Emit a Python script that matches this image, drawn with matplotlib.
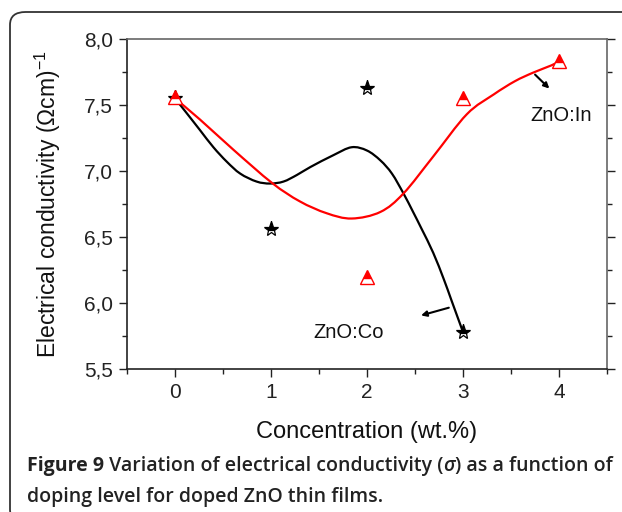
import numpy as np
import matplotlib.pyplot as plt
from matplotlib.patches import FancyBboxPatch, PathPatch
from matplotlib.path import Path
from matplotlib.ticker import MultipleLocator

plt.rcParams['font.family'] = ['Liberation Sans', 'DejaVu Sans']
plt.rcParams['mathtext.fontset'] = 'custom'
plt.rcParams['mathtext.rm'] = 'Liberation Sans'

# measured points
conc = [0, 1, 2, 3, 4]
sigma_co = [7.55, 6.56, 7.63, 5.78]
sigma_in = [7.56, 6.20, 7.55, 7.83]
conc_in = [0, 2, 3, 4]

# smoothed fit curves
fit_co_x = [0.0, 0.12, 0.26, 0.40, 0.54, 0.68, 0.85, 0.99, 1.13, 1.27, 1.41,
            1.65, 1.84, 2.00, 2.14, 2.26, 2.38, 2.48, 2.57, 2.69, 2.80, 2.88, 3.0]
fit_co_y = [7.55, 7.44, 7.31, 7.18, 7.07, 6.98, 6.92, 6.905, 6.92, 6.97, 7.03,
            7.12, 7.18, 7.155, 7.08, 6.98, 6.83, 6.69, 6.56, 6.38, 6.18, 6.02, 5.78]
fit_in_x = [0.0, 0.26, 0.61, 1.01, 1.30, 1.58, 1.84, 2.14, 2.38, 2.69, 3.04,
            3.32, 3.54, 3.73, 3.92, 4.0]
fit_in_y = [7.55, 7.39, 7.16, 6.91, 6.77, 6.68, 6.64, 6.69, 6.83, 7.11, 7.43,
            7.58, 7.68, 7.745, 7.80, 7.83]

yticks = [5.5, 6.0, 6.5, 7.0, 7.5, 8.0]
ytick_labels = ['5,5', '6,0', '6,5', '7,0', '7,5', '8,0']


def spline_line(ax, xs, ys, **kw):
    # catmull-rom style connection drawn as cubic bezier segments
    p = np.column_stack([xs, ys]).astype(float)
    n = len(p)
    verts = [p[0]]
    codes = [Path.MOVETO]
    for i in range(n - 1):
        p0 = p[i - 1] if i > 0 else p[i]
        p1, p2 = p[i], p[i + 1]
        p3 = p[i + 2] if i + 2 < n else p[i + 1]
        verts += [p1 + (p2 - p0) / 6, p2 - (p3 - p1) / 6, p2]
        codes += [Path.CURVE4] * 3
    ax.add_patch(PathPatch(Path(verts, codes), fill=False, **kw))


fig = plt.figure(figsize=(6.22, 5.12), dpi=100)
ax = fig.add_axes([127/622, 1-369/512, 480/622, 330/512])

spline_line(ax, fit_co_x, fit_co_y, ec='black', lw=1.6, zorder=2)
spline_line(ax, fit_in_x, fit_in_y, ec='#ff0000', lw=1.6, zorder=2)
ax.plot(conc[:4], sigma_co, ls='none', marker='*', ms=11, fillstyle='top',
        mfc='black', mfcalt='white', mec='black', mew=0.9, zorder=3)
ax.plot(conc_in, sigma_in, ls='none', marker='^', ms=10, fillstyle='top',
        mfc='#ff0000', mfcalt='white', mec='#ff0000', mew=1.0, zorder=4)

ax.annotate('', xy=(3.92, 7.61), xytext=(3.73, 7.745),
            arrowprops=dict(arrowstyle='-|>', color='black', lw=1.5, mutation_scale=8))
ax.annotate('', xy=(2.535, 5.90), xytext=(2.88, 5.97),
            arrowprops=dict(arrowstyle='-|>', color='black', lw=1.5, mutation_scale=8))
ax.text(3.70, 7.42, 'ZnO:In', fontsize=14.5, va='center', ha='left', color='#111')
ax.text(1.44, 5.78, 'ZnO:Co', fontsize=14.5, va='center', ha='left', color='#111')

ax.set_xlim(-0.5, 4.5)
ax.set_ylim(5.5, 8.0)
ax.set_xticks(conc)
ax.xaxis.set_minor_locator(MultipleLocator(0.5))
ax.set_yticks(yticks)
ax.set_yticklabels(ytick_labels)
ax.yaxis.set_minor_locator(MultipleLocator(0.25))
ax.tick_params(which='major', direction='out', length=6, width=1, labelsize=15,
               colors='#222', pad=4)
ax.tick_params(which='minor', direction='out', length=3.5, width=1, colors='#222')
ax.tick_params(which='both', right=True, top=False)
for s in ['left', 'bottom']:
    ax.spines[s].set_color('#222')
    ax.spines[s].set_linewidth(1.2)
for s in ['right', 'top']:
    ax.spines[s].set_color('#666')
    ax.spines[s].set_linewidth(1.2)

ax.set_xlabel('Concentration (wt.%)', fontsize=17, color='#111')
ax.set_ylabel(r'Electrical conductivity ($\Omega$cm)$^{-1}$', fontsize=16.5, color='#111')
ax.xaxis.set_label_coords(0.5, -0.158)
ax.yaxis.set_label_coords(-0.133, 0.5)

# rounded frame round the figure and caption
frame = FancyBboxPatch((10/622, -0.02), 1.2, (512-12)/512 + 0.02,
                       boxstyle='round,pad=0,rounding_size=0.025',
                       transform=fig.transFigure, fill=False, ec='#333', lw=1.3)
fig.patches.append(frame)

# caption, mixed weights
cap_font = ['Open Sans', 'DejaVu Sans']
fig.canvas.draw()
r = fig.canvas.get_renderer()

def put(parts, x, y):
    for txt, kw in parts:
        t = fig.text(x, y, txt, fontsize=14, family=cap_font, color='#222',
                     va='center', ha='left', **kw)
        bb = t.get_window_extent(renderer=r)
        x = bb.x1 / fig.bbox.width

put([('Figure 9', dict(weight='bold')),
     (' Variation of electrical conductivity (', dict(weight='semibold')),
     ('σ', dict(weight='semibold', style='italic')),
     (') as a function of', dict(weight='semibold'))], 27/622, 1-466/512)
put([('doping level for doped ZnO thin films.', dict(weight='semibold'))],
    27/622, 1-497/512)

fig.savefig('out.png', dpi=100)
